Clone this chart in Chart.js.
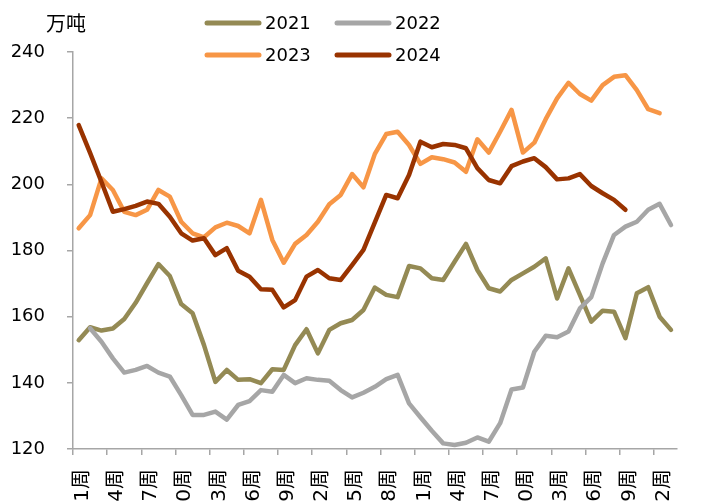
<!DOCTYPE html>
<html>
<head>
<meta charset="utf-8">
<script src="https://cdn.jsdelivr.net/npm/chart.js@4/dist/chart.umd.min.js"></script>
<style>
  html, body { margin: 0; padding: 0; background: #fff; overflow: hidden; }
  #wrap { width: 709px; height: 501px; }
</style>
</head>
<body>
<div id="wrap"><canvas id="c" width="709" height="501"></canvas></div>
<script>
// weekly categories
const weeks = ['1周','2周','3周','4周','5周','6周','7周','8周','9周','10周',
  '11周','12周','13周','14周','15周','16周','17周','18周','19周','20周',
  '21周','22周','23周','24周','25周','26周','27周','28周','29周','30周',
  '31周','32周','33周','34周','35周','36周','37周','38周','39周','40周',
  '41周','42周','43周','44周','45周','46周','47周','48周','49周','50周',
  '51周','52周','53周'];

const years = ['2021', '2022', '2023', '2024'];

const v2021 = [152.9,156.8,155.8,156.4,159.3,164.2,170.1,175.9,172.3,163.8,
  161.0,151.4,140.3,143.9,140.9,141.1,139.9,144.1,143.9,151.4,
  156.2,148.9,156.0,158.0,159.0,162.0,168.8,166.6,165.9,175.3,
  174.6,171.6,171.1,176.6,182.0,174.1,168.6,167.6,171.1,173.1,
  175.1,177.6,165.5,174.6,166.6,158.5,161.8,161.5,153.5,167.1,
  168.9,160.0,156.0];

const v2022 = [null,156.5,152.4,147.4,143.1,143.9,145.1,143.1,141.9,136.3,
  130.3,130.3,131.3,128.9,133.3,134.5,137.8,137.3,142.4,139.9,
  141.4,140.9,140.6,137.8,135.6,137.0,138.8,141.1,142.4,133.8,
  129.6,125.5,121.7,121.2,121.9,123.5,122.2,127.8,138.0,138.6,
  149.4,154.2,153.8,155.5,162.5,165.9,176.1,184.7,187.2,188.7,
  192.3,194.1,187.7];

const v2023 = [186.7,190.7,201.8,198.3,191.7,190.7,192.3,198.3,196.3,188.7,
  185.2,184.0,187.0,188.4,187.4,185.2,195.3,183.2,176.3,182.0,
  184.7,188.7,194.0,196.8,203.1,199.1,209.2,215.2,215.9,211.9,
  206.2,208.2,207.6,206.6,203.8,213.6,209.6,215.9,222.5,209.6,
  212.6,219.7,226.0,230.7,227.3,225.3,230.0,232.5,233.0,228.5,
  222.7,221.5];

const v2024 = [217.9,209.5,200.7,191.7,192.5,193.5,194.8,194.1,190.2,185.2,
  183.0,183.7,178.6,180.7,173.9,172.1,168.3,168.1,162.8,165.0,
  172.1,174.1,171.6,171.1,175.6,180.2,188.5,196.8,195.8,202.8,
  212.9,211.2,212.2,211.9,210.9,204.9,201.3,200.3,205.5,206.9,
  207.9,205.2,201.5,201.8,203.1,199.5,197.3,195.3,192.3];

const colors = ['#948A54', '#A6A6A6', '#F79646', '#993300'];
const axisColor = '#A6A6A6';
const fontFamily = "'DejaVu Sans', 'Noto Sans CJK SC', sans-serif";

// 2x2 legend + unit label, drawn on top of the canvas
const legendGrid = {
  id: 'legendGrid',
  afterDraw(chart) {
    const ctx = chart.ctx;
    ctx.save();
    ctx.font = "20px 'Noto Sans CJK SC', sans-serif";
    ctx.fillStyle = '#000';
    ctx.textAlign = 'left';
    ctx.textBaseline = 'middle';
    ctx.fillText('万吨', 46, 23);

    ctx.font = '18px ' + fontFamily;
    chart.data.datasets.forEach((ds, i) => {
      const x = 207 + (i % 2) * 130;
      const y = 23 + Math.floor(i / 2) * 32;
      ctx.strokeStyle = ds.borderColor;
      ctx.lineWidth = 5;
      ctx.lineCap = 'round';
      ctx.beginPath();
      ctx.moveTo(x, y);
      ctx.lineTo(x + 52, y);
      ctx.stroke();
      ctx.fillText(ds.label, x + 58, y + 1);
    });
    ctx.restore();
  }
};

const series = [v2021, v2022, v2023, v2024];

new Chart(document.getElementById('c'), {
  type: 'line',
  data: {
    labels: weeks,
    datasets: years.map((y, i) => ({
      label: y,
      data: series[i],
      borderColor: colors[i],
      backgroundColor: colors[i],
      borderWidth: 4.5,
      borderCapStyle: 'round',
      borderJoinStyle: 'round',
      pointRadius: 0,
      tension: 0,
      order: 4 - i
    }))
  },
  options: {
    responsive: false,
    animation: false,
    devicePixelRatio: 1,
    layout: { autoPadding: false, padding: { top: 52, left: 0, right: 0, bottom: 0 } },
    plugins: {
      legend: { display: false },
      tooltip: { enabled: false }
    },
    scales: {
      x: {
        offset: true,
        afterFit: (s) => { s.height = 52; },
        border: { color: axisColor, width: 1.5 },
        grid: {
          offset: true,
          drawOnChartArea: false,
          drawTicks: true,
          tickLength: 6,
          lineWidth: 1.5,
          color: (c) => (c.index !== undefined && c.index % 3 === 0) ? axisColor : 'rgba(0,0,0,0)'
        },
        ticks: {
          autoSkip: false,
          maxRotation: 90,
          minRotation: 90,
          labelOffset: 4,
          padding: 14,
          color: '#000',
          font: { family: fontFamily, size: 20 },
          callback: (v, i) => (i % 3 === 0 ? weeks[i] : '')
        }
      },
      y: {
        min: 120,
        max: 240,
        afterFit: (s) => { s.width = 73; },
        border: { color: axisColor, width: 1.5 },
        grid: {
          drawOnChartArea: false,
          drawTicks: true,
          tickLength: 6,
          lineWidth: 1.5,
          color: axisColor
        },
        ticks: {
          stepSize: 20,
          padding: 22,
          color: '#000',
          font: { family: fontFamily, size: 18 }
        }
      }
    }
  },
  plugins: [legendGrid]
});
</script>
</body>
</html>
